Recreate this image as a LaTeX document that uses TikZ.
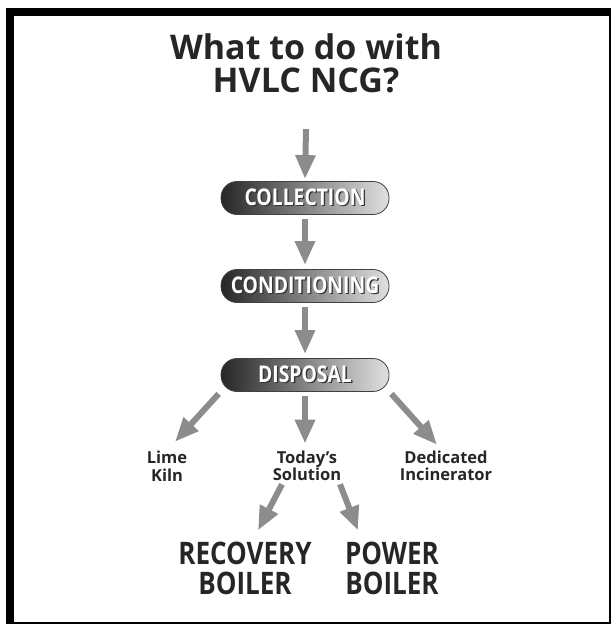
\documentclass[tikz,border=0pt]{standalone}
\usepackage{fontspec}
\setmainfont{Open Sans}
\newfontfamily\condfont{Open Sans}[FakeStretch=0.84]
\usepackage{tikz}
\usetikzlibrary{arrows.meta, positioning, calc}

\newcommand{\shadowed}[1]{\makebox[0pt][l]{\kern1.3pt\raisebox{-1.3pt}{\color{black!80}#1}}{\color{white}#1}}

\begin{document}
\begin{tikzpicture}[
    x=1pt, y=-1pt,
    stage/.style={rectangle, rounded corners=16pt, draw=black!75, line width=0.8pt, left color=black!85, right color=black!12, minimum width=168pt, minimum height=33pt, inner sep=0pt, font=\condfont\bfseries\fontsize{23}{23}\selectfont},
    choice/.style={align=center, font=\bfseries\fontsize{16.5}{17.5}\selectfont, text=black!85, inner sep=1pt},
    boiler/.style={align=center, font=\condfont\bfseries\fontsize{31}{30}\selectfont, text=black!85, inner sep=1pt},
    flow/.style={draw=black!45, line width=6pt, -{Triangle[width=19pt, length=24pt]}}
]
    \useasboundingbox (0,0) rectangle (613,624);

    % Frame
    \fill[black] (6,8) rectangle (611,16);
    \fill[black] (6,8) rectangle (14,623);
    \fill[black] (609,8) rectangle (611,623);
    \fill[black] (6,622) rectangle (611,623.5);

    % Title
    \node[align=center, font=\bfseries\fontsize{34}{33}\selectfont, text=black!85] (title) at (306,63) {What to do with\\HVLC NCG?};

    % Stages
    \node[stage] (coll) at (305,198) {\shadowed{COLLECTION}};
    \node[stage] (cond) at (305,286) {\shadowed{CONDITIONING}};
    \node[stage] (disp) at (305,375) {\shadowed{DISPOSAL}};

    % Options
    \node[choice] (lime) at (167,466) {Lime\\Kiln};
    \node[choice] (today) at (307,466) {Today's\\Solution};
    \node[choice] (dedic) at (446,466) {Dedicated\\Incinerator};

    % Boilers
    \node[boiler] (rec) at (245,568) {RECOVERY\\BOILER};
    \node[boiler] (pow) at (392,568) {POWER\\BOILER};

    % Arrows
    \draw[flow] ([yshift=-33pt]title.south) -- ([yshift=2pt]coll.north);
    \draw[flow] ([yshift=-4pt]coll.south) -- ([yshift=4pt]cond.north);
    \draw[flow] ([yshift=-4pt]cond.south) -- ([yshift=4pt]disp.north);
    \draw[flow] ([xshift=-2pt,yshift=-2pt]disp.south west) -- ([xshift=8pt,yshift=8pt]lime.north);
    \draw[flow] ([yshift=-4pt]disp.south) -- ([xshift=-2pt,yshift=6pt]today.north);
    \draw[flow] ([xshift=2pt,yshift=-2pt]disp.south east) -- ([xshift=-9pt,yshift=5pt]dedic.north);
    \draw[flow] ([xshift=-25pt,yshift=-2pt]today.south) -- ([xshift=13pt,yshift=10pt]rec.north);
    \draw[flow] ([xshift=33pt,yshift=-2pt]today.south) -- ([xshift=-34pt,yshift=10pt]pow.north);
\end{tikzpicture}
\end{document}
